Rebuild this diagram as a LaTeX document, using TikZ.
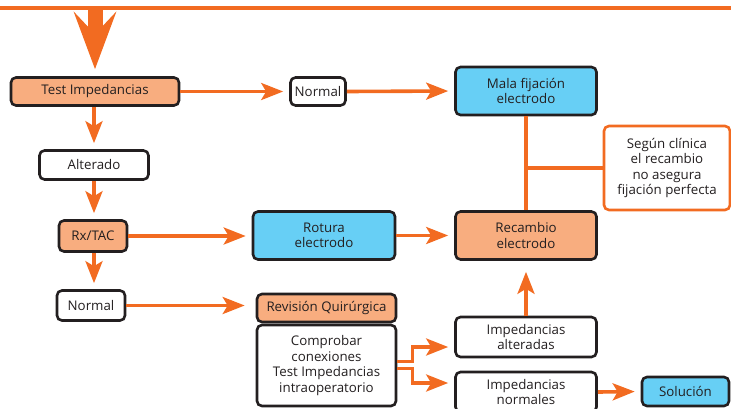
\documentclass[tikz,border=0pt]{standalone}
\usepackage{fontspec}
\setmainfont{Open Sans}
\usepackage{xcolor}
\usetikzlibrary{arrows.meta}
\definecolor{naranja}{HTML}{F26B21}
\definecolor{salmon}{HTML}{F8AD7F}
\definecolor{celeste}{HTML}{67CFF5}
\definecolor{oscuro}{HTML}{231F20}

\begin{document}
\begin{tikzpicture}[x=1pt, y=-1pt,
  box/.style={draw=oscuro, line width=2.6pt, rounded corners=5pt, fill=white,
              text=oscuro, align=center, inner sep=0pt,
              font=\fontsize{13.3}{15.5}\selectfont},
  arr/.style={-{Stealth[length=22pt, width=17pt, inset=5pt]}, line width=3.6pt,
              naranja, shorten >=6pt},
  lin/.style={line width=3.6pt, naranja},
  bigarr/.style={-{Stealth[length=57pt, width=42pt, inset=22pt]}, line width=15pt,
              naranja, shorten >=7pt}
]
  \useasboundingbox (0,0) rectangle (731,408);

  \node[box, fill=salmon, minimum width=168pt, minimum height=28pt] (testimp) at (95,91.5) {Test Impedancias};
  \node[box, minimum width=55pt, minimum height=28pt] (normal) at (318,91.5) {Normal};
  \node[box, fill=celeste, minimum width=141pt, minimum height=48pt] (mala) at (526,91) {Mala fijación\\electrodo};
  \node[box, minimum width=109pt, minimum height=29pt] (alterado) at (94,165) {Alterado};
  \node[box, draw=naranja, minimum width=126pt, minimum height=84pt] (segun) at (667,168) {Según clínica\\el recambio\\no asegura\\fijación perfecta};
  \node[box, fill=salmon, minimum width=68pt, minimum height=31pt] (rxtac) at (93,236) {Rx/TAC};
  \node[box, fill=celeste, minimum width=142pt, minimum height=48pt] (rotura) at (324,235.5) {Rotura\\electrodo};
  \node[box, fill=salmon, minimum width=141pt, minimum height=48pt] (recambio) at (526,235.5) {Recambio\\electrodo};
  \node[box, minimum width=68pt, minimum height=30pt] (normaldos) at (91,305.5) {Normal};
  \node[box, fill=salmon, minimum width=139pt, minimum height=28pt] (revision) at (326.5,308) {Revisión Quirúrgica};
  \node[box, minimum width=139pt, minimum height=81pt] (comp) at (326.5,365.5) {Comprobar\\conexiones\\Test Impedancias\\intraoperatorio};
  \node[box, minimum width=141pt, minimum height=40pt] (alteradas) at (526,337) {Impedancias\\alteradas};
  \node[box, minimum width=141pt, minimum height=40pt] (normales) at (526,392) {Impedancias\\normales};
  \node[box, fill=celeste, minimum width=87pt, minimum height=29pt] (solucion) at (685.5,391.5) {Solución};

  \coordinate (izq) at (0,8);
  \coordinate (der) at (731,8);
  \draw[lin, line width=4.5pt] (izq) -- (der);
  \draw[bigarr] (izq -| testimp) -- (testimp.north);

  \draw[arr] (testimp.east) -- (normal.west);
  \draw[arr] (normal.east) -- (mala.west);
  \draw[arr] (testimp.south -| alterado) -- (alterado.north);
  \draw[arr] (alterado.south) -- (alterado.south |- rxtac.north);
  \draw[arr] (rxtac.east) -- (rxtac.east -| rotura.west);
  \draw[arr] (rotura.east) -- (recambio.west);
  \draw[arr] (rxtac.south -| alterado) -- (alterado |- normaldos.north);
  \draw[arr, shorten >=11pt] (normaldos.east) -- (normaldos.east -| revision.west);
  \draw[lin] (mala.south) -- (recambio.north);
  \draw[lin] (mala.south |- segun.west) -- (segun.west);
  \draw[arr] ([yshift=4pt]comp.east) -- ++(15,0) |- ([yshift=-10pt]alteradas.west);
  \draw[arr] ([yshift=-3pt]comp.east) -- ++(15,0) |- ([yshift=9pt]normales.west);
  \draw[arr, shorten >=11pt] (alteradas.north) -- (recambio.south);
  \draw[arr] (normales.east) -- (solucion.west);
\end{tikzpicture}
\end{document}
